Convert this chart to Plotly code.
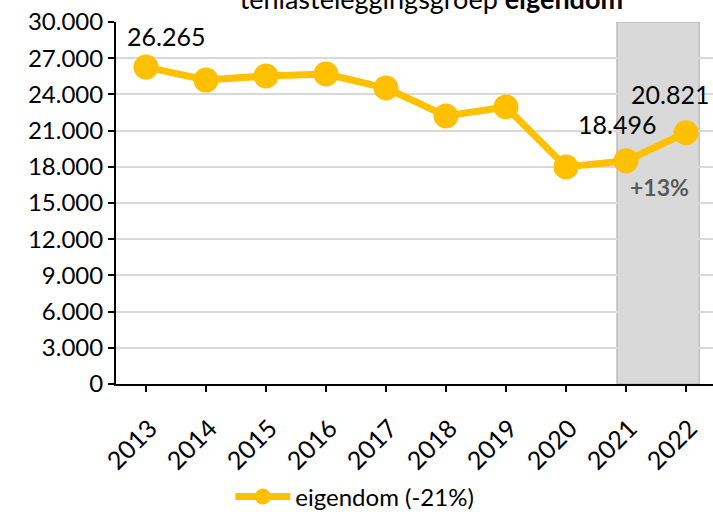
import plotly.graph_objects as go

years = ["2013", "2014", "2015", "2016", "2017", "2018", "2019", "2020", "2021", "2022"]
values = [26265, 25190, 25530, 25690, 24530, 22210, 22960, 17990, 18496, 20821]
series_name = "eigendom (-21%)"
labelled = {0: "26.265", 8: "18.496", 9: "20.821"}
change_label = "+13%"
yticks = [0, 3000, 6000, 9000, 12000, 15000, 18000, 21000, 24000, 27000, 30000]
ytick_text = ["0", "3.000", "6.000", "9.000", "12.000", "15.000", "18.000", "21.000", "24.000", "27.000", "30.000"]

FONT = "Lato"
xs = list(range(len(years)))

fig = go.Figure()
fig.add_shape(type="rect", xref="x", yref="y", x0=7.85, x1=9.22, y0=0, y1=30000,
              fillcolor="#d9d9d9", line=dict(color="#bfbfbf", width=1.5), layer="below")
fig.add_trace(go.Scatter(
    x=xs, y=values, mode="lines+markers", name=series_name,
    line=dict(color="#FFC000", width=7),
    marker=dict(color="#FFC000", size=25),
))

shifts = {0: (20, 31), 8: (-9, 37), 9: (-16, 39)}
for i, t in labelled.items():
    dx, dy = shifts[i]
    fig.add_annotation(x=xs[i], y=values[i], text=t, showarrow=False,
                       xshift=dx, yshift=dy, font=dict(family=FONT, size=25, color="#000"))
fig.add_annotation(x=xs[8] + 0.55, y=values[8], text="<b>" + change_label + "</b>", showarrow=False,
                   yshift=-26, font=dict(family=FONT, size=23, color="#595959"))

fig.update_layout(
    width=713, height=518,
    margin=dict(l=116, r=0, t=22, b=134, autoexpand=False),
    paper_bgcolor="white", plot_bgcolor="white",
    separators=",.",
    title=dict(text="tenlasteleggingsgroep <b>eigendom</b>", x=0.605, xanchor="center",
               y=1.0, yanchor="middle", yref="container",
               font=dict(family=FONT, size=27, color="#000")),
    font=dict(family=FONT, size=24, color="#000"),
    showlegend=True,
    legend=dict(orientation="h", x=0.40, xanchor="center", y=-0.25, yanchor="top",
                font=dict(family=FONT, size=24), itemwidth=55),
    xaxis=dict(range=[-0.5, 9.45], tickmode="array", tickvals=xs, ticktext=years,
               tickangle=-45, showgrid=False, showline=True, linecolor="#000", linewidth=2,
               ticks="outside", ticklen=6, tickcolor="#000", tickwidth=2, automargin=False,
               ticklabelstandoff=12, ticklabelshift=4,
               tickfont=dict(family=FONT, size=25), zeroline=False),
    yaxis=dict(range=[0, 30000], tickmode="array", tickvals=yticks, ticktext=ytick_text,
               showgrid=True, gridcolor="#d9d9d9", gridwidth=1.5, automargin=False,
               showline=True, linecolor="#000", linewidth=2,
               ticks="outside", ticklen=6, tickcolor="#000", tickwidth=2,
               tickfont=dict(family=FONT, size=24), zeroline=False),
)

fig.write_html("out.html", config={"displayModeBar": False},
               post_script="document.body.style.margin='0';document.body.style.overflow='hidden';")
